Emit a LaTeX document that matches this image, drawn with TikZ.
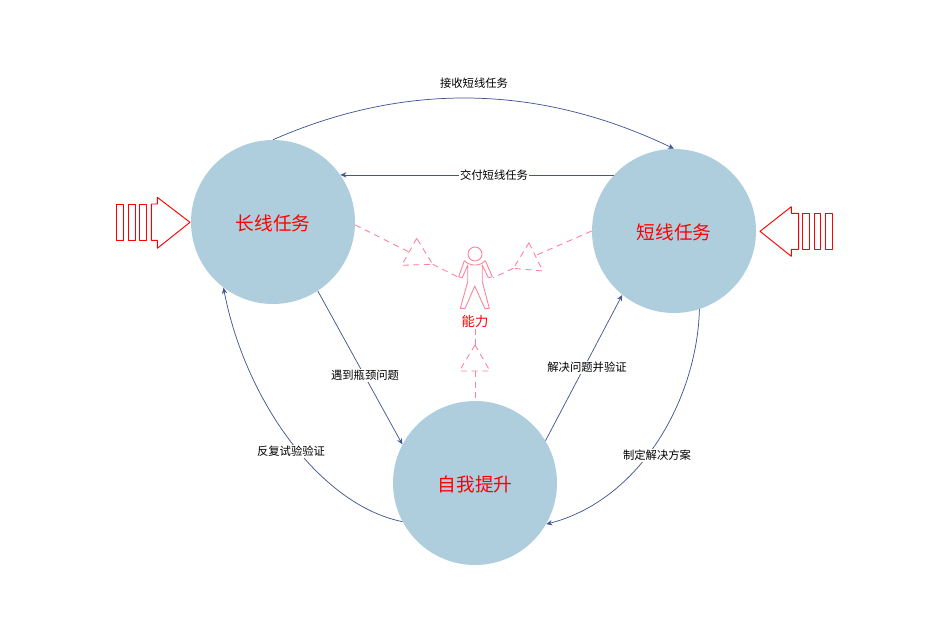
\documentclass[tikz,border=0pt]{standalone}
\usepackage{fontspec}
\setmainfont{Noto Sans CJK SC}
\usetikzlibrary{arrows.meta}
\definecolor{circblue}{HTML}{AECEDD}
\definecolor{flowblue}{HTML}{42568F}
\definecolor{linkpink}{HTML}{FF7F9C}
\tikzset{plane/.style={
  x=0.75pt,y=-0.75pt,
  >={Stealth[length=4.5pt,width=4pt]},line join=round
}}
\tikzset{taskcirc/.style={circle,fill=circblue,minimum size=123pt,inner sep=0pt,text=red,text height=12.8pt,text depth=0pt,font=\fontsize{14}{15}\selectfont}}
\tikzset{flow/.style={->,flowblue,line width=0.55pt}}
\tikzset{flowlabel/.style={fill=white,inner sep=1pt,text=black,font=\fontsize{8.5}{10}\selectfont}}
\tikzset{link/.style={linkpink,dash pattern=on 4.5pt off 3.5pt,line width=0.65pt}}
\tikzset{blockline/.style={red,line width=0.7pt}}

\begin{document}
\begin{tikzpicture}[plane]
  \useasboundingbox (0,0) rectangle (941,632);
  \node[taskcirc] (long) at (273,222) {长线任务};
  \node[taskcirc] (short) at (674,231) {短线任务};
  \node[taskcirc] (self) at (475,483) {自我提升};
  \node[text=red,font=\fontsize{10}{11}\selectfont,inner sep=1pt] (skill) at (475,321) {能力};
  % flows between the circles
  \draw[flow] (long.north) .. controls (407,81) and (541,85) .. (short.north);
  \draw[flow] (short.137) -- (short.137 -| long.35);
  \draw[flow] (long.-57) -- (self.152);
  \draw[flow] (self.31) -- (short.231);
  \draw[flow] (short.-72) .. controls (697,400) and (640,500) .. (self.-30);
  \draw[flow] (self.208) .. controls (320,505) and (245,400) .. (long.233);
  \node[flowlabel] (receive) at (474,83) {接收短线任务};
  \node[flowlabel] (deliver) at (494,175.5) {交付短线任务};
  \node[flowlabel] (meet) at (365,375.5) {遇到瓶颈问题};
  \node[flowlabel] (solve) at (587,367.5) {解决问题并验证};
  \node[flowlabel] (plan) at (657,455.5) {制定解决方案};
  \node[flowlabel] (retry) at (291,451.5) {反复试验验证};
  % person
  \node[draw=linkpink,circle,minimum size=10.5pt,inner sep=0pt,line width=0.65pt] (head) at (475,254) {};
  \draw[linkpink,line width=0.65pt] (464.3,260.7) .. controls (470,266.5) and (480,266.5) .. (485.3,260.7)
    -- (492.3,276.7) -- (488.3,277.7) -- (482.3,265) -- (482.3,281.7) -- (489.3,308.3) -- (485,308.7)
    -- (474.7,286) -- (465,308.7) -- (460.3,308.3) -- (467.7,281.7) -- (467.7,265) -- (462.3,277.7)
    -- (458.7,276.7) -- cycle;
  % dashed links with their triangles
  \coordinate (la) at (416.7,238.3);
  \coordinate (lb) at (401.7,265.3);
  \coordinate (lc) at (432.7,264.3);
  \coordinate (lm) at (409,252);
  \coordinate (lh) at (457.3,276.7);
  \draw[link] (long.-2) -- (lm);
  \draw[link] (la) -- (lb) -- (lc) -- cycle;
  \draw[link] (lc) -- (lh);
  \coordinate (ra) at (529,242.7);
  \coordinate (rb) at (542.7,271);
  \coordinate (rc) at (513.3,268.3);
  \coordinate (rm) at (536.7,255);
  \coordinate (rh) at (493.3,277.7);
  \draw[link] (short.180) -- (rm);
  \draw[link] (ra) -- (rb) -- (rc) -- cycle;
  \draw[link] (rc) -- (rh);
  \coordinate (ba) at (475,345);
  \coordinate (bb) at (459.3,371);
  \coordinate (bc) at (490,371);
  \coordinate (bm) at (475,371);
  \draw[link] (skill.south) -- (ba);
  \draw[link] (ba) -- (bb) -- (bc) -- cycle;
  \draw[link] (bm) -- (self.north);
  % block arrow on the left
  \foreach \xa/\xb in {116.3/123.7,128.3/135.7,139.3/146.7}
    \draw[blockline] (\xa,204) rectangle (\xb,240.3);
  \draw[blockline] (151.3,204) -- (157.3,204) -- (157.3,197.3) -- (190,222.3) -- (157.3,248.3)
    -- (157.3,240.3) -- (151.3,240.3) -- cycle;
  % block arrow on the right
  \foreach \xa/\xb in {802.3/809.7,814/820.7,825.3/832.3}
    \draw[blockline] (\xa,213.3) rectangle (\xb,249.3);
  \draw[blockline] (760,231.3) -- (791.3,206.7) -- (791.3,213.3) -- (798.7,213.3) -- (798.7,249.3)
    -- (791.3,249.3) -- (791.3,256.3) -- cycle;
\end{tikzpicture}
\end{document}
